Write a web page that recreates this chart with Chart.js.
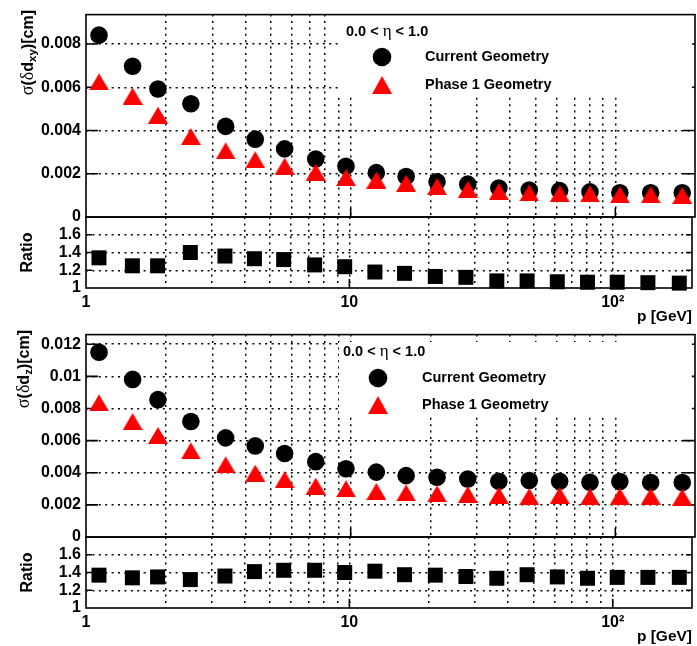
<!DOCTYPE html>
<html><head><meta charset="utf-8">
<script src="https://cdn.jsdelivr.net/npm/chart.js@4.4.1/dist/chart.umd.min.js"></script>
<style>
html,body{margin:0;padding:0;background:#fff;overflow:hidden;width:697px;height:646px;}
canvas{position:absolute;left:0;}
</style></head><body>
<canvas id="c1" width="697" height="240" style="top:0px;width:697px;height:240px"></canvas>
<canvas id="c2" width="697" height="130" style="top:200px;width:697px;height:130px"></canvas>
<canvas id="c3" width="697" height="240" style="top:320px;width:697px;height:240px"></canvas>
<canvas id="c4" width="697" height="130" style="top:520px;width:697px;height:130px"></canvas>
<script>
// ---------------- data ----------------
const momentum   = [1.12, 1.5, 1.87, 2.49, 3.37, 4.36, 5.63, 7.38, 9.6, 12.5, 16.2, 21.2, 27.7, 36.3, 47.3, 61.6, 80.2, 104, 136, 179];
const dxyCurrent = [0.00841, 0.00697, 0.00592, 0.00524, 0.00419, 0.0036, 0.00315, 0.00268, 0.00235, 0.00205, 0.00187, 0.00163, 0.00152, 0.00134, 0.00125, 0.00122, 0.00116, 0.00112, 0.00112, 0.00112];
const dxyPhase1  = [0.00625, 0.00559, 0.00471, 0.00372, 0.00306, 0.00265, 0.00235, 0.00207, 0.00182, 0.00171, 0.00156, 0.00141, 0.00128, 0.00118, 0.00111, 0.00108, 0.00107, 0.00103, 0.00103, 0.001];
const dxyRatio   = [1.34, 1.25, 1.25, 1.40, 1.36, 1.33, 1.32, 1.26, 1.24, 1.18, 1.165, 1.13, 1.12, 1.08, 1.08, 1.07, 1.065, 1.065, 1.06, 1.055];
const dzCurrent  = [0.0115, 0.00981, 0.00855, 0.00719, 0.00617, 0.00567, 0.0052, 0.00469, 0.00425, 0.00404, 0.00382, 0.00372, 0.00361, 0.00347, 0.00352, 0.00347, 0.00341, 0.00345, 0.00339, 0.00339];
const dzPhase1   = [0.00835, 0.00719, 0.00632, 0.00536, 0.00449, 0.00398, 0.00357, 0.00317, 0.003, 0.00284, 0.00274, 0.00268, 0.00264, 0.00259, 0.00252, 0.00259, 0.00251, 0.00254, 0.00254, 0.00249];
const dzRatio    = [1.37, 1.34, 1.35, 1.32, 1.36, 1.41, 1.425, 1.425, 1.40, 1.415, 1.375, 1.37, 1.355, 1.335, 1.375, 1.35, 1.335, 1.345, 1.345, 1.345];

const xGridValues = [1, 2, 3, 4, 5, 6, 7, 8, 9, 10, 20, 30, 40, 50, 60, 70, 80, 90, 100, 200];
const xTickLabels = {1: '1', 10: '10', 100: '10\u00B2'};
const dxyTicks   = [0, 0.002, 0.004, 0.006, 0.008];
const dzTicks    = [0, 0.002, 0.004, 0.006, 0.008, 0.01, 0.012];
const ratioTicks = [1, 1.2, 1.4, 1.6];
const seriesNames = ['Current Geometry', 'Phase 1 Geometry'];
const etaHeader = ['0.0 < ', '\u03B7', ' < 1.0'];
const xTitle = 'p [GeV]';
const ratioTitle = 'Ratio';
const dxyTitle = [['\u03C3', 'g'], ['(', 'b'], ['\u03B4', 'g'], ['d', 'b'], ['xy', 's'], [')[cm]', 'b']];
const dzTitle  = [['\u03C3', 'g'], ['(', 'b'], ['\u03B4', 'g'], ['d', 'b'], ['z', 's'], [')[cm]', 'b']];

// ---------------- style ----------------
const SANS = '"Liberation Sans", Arial, Helvetica, sans-serif';
const SERIF = '"Liberation Serif", "Times New Roman", serif';
const GRID_DASH = [2, 4.4];
const CLEAR = 'rgba(0,0,0,0)';

const triImg = document.createElement('canvas');
triImg.width = 20; triImg.height = 17;
(function () {
  const c = triImg.getContext('2d');
  c.fillStyle = '#ff0000';
  c.beginPath(); c.moveTo(0, 17); c.lineTo(20, 17); c.lineTo(10, 0); c.closePath(); c.fill();
})();

function drawRich(ctx, segs, x0, y0, sizes) {
  let x = x0;
  segs.forEach(([t, k]) => {
    let dy = 0;
    if (k === 'g') ctx.font = sizes.g + 'px ' + SERIF;
    else if (k === 's') { ctx.font = 'bold ' + sizes.s + 'px ' + SANS; dy = sizes.dy; }
    else ctx.font = 'bold ' + sizes.b + 'px ' + SANS;
    ctx.fillText(t, x, y0 + dy);
    x += ctx.measureText(t).width;
  });
  return x - x0;
}
function richWidth(ctx, segs, sizes) {
  let w = 0;
  segs.forEach(([t, k]) => {
    if (k === 'g') ctx.font = sizes.g + 'px ' + SERIF;
    else if (k === 's') ctx.font = 'bold ' + sizes.s + 'px ' + SANS;
    else ctx.font = 'bold ' + sizes.b + 'px ' + SANS;
    w += ctx.measureText(t).width;
  });
  return w;
}

const rootPlugin = {
  id: 'rootStyle',
  beforeDatasetsDraw(chart, args, o) {
    const {ctx, chartArea: a, scales} = chart;
    ctx.save();
    // inward ticks
    ctx.strokeStyle = '#000';
    ctx.lineWidth = 1.6;
    ctx.setLineDash([]);
    ctx.beginPath();
    scales.y.ticks.forEach(t => {
      if (t.value === scales.y.min) return;
      const y = scales.y.getPixelForValue(t.value);
      ctx.moveTo(a.left, y); ctx.lineTo(a.left + o.yTick, y);
      ctx.moveTo(a.right, y); ctx.lineTo(a.right - o.yTick, y);
    });
    scales.x.ticks.forEach(t => {
      if (!xTickLabels[t.value] || t.value === scales.x.min) return;
      const x = scales.x.getPixelForValue(t.value);
      ctx.moveTo(x, a.bottom); ctx.lineTo(x, a.bottom - o.xTick);
    });
    ctx.stroke();

    // legend box
    if (o.legend) {
      const L = o.legend;
      ctx.fillStyle = '#fff';
      ctx.fillRect(L.box[0], L.box[1], L.box[2] - L.box[0], L.box[3] - L.box[1]);
      ctx.fillStyle = '#000';
      ctx.textBaseline = 'middle';
      ctx.textAlign = 'left';
      drawRich(ctx, [[etaHeader[0], 'b'], [etaHeader[1], 'g'], [etaHeader[2], 'b']], L.hx, L.hy, {b: 14.5, g: 17, s: 10, dy: 0});
      chart.data.datasets.forEach((ds, i) => {
        const y = L.rows[i];
        if (ds.pointStyle === 'circle') {
          ctx.fillStyle = ds.backgroundColor;
          ctx.beginPath(); ctx.arc(L.mx, y, 9.3, 0, Math.PI * 2); ctx.fill();
        } else {
          ctx.drawImage(ds.pointStyle, L.mx - 10, y - 9, 20, 18);
        }
        ctx.fillStyle = '#000';
        ctx.font = 'bold 14.5px ' + SANS;
        ctx.fillText(ds.label, L.tx, y);
      });
    }

    // rotated y title with subscript
    if (o.yTitle) {
      const T = o.yTitle;
      const sizes = {b: 16, g: 18, s: 11.5, dy: 3};
      const w = richWidth(ctx, T.segs, sizes);
      ctx.fillStyle = '#000';
      ctx.textBaseline = 'alphabetic';
      ctx.textAlign = 'left';
      ctx.translate(T.bx, T.top + w);
      ctx.rotate(-Math.PI / 2);
      drawRich(ctx, T.segs, 0, 0, sizes);
      ctx.setTransform(1, 0, 0, 1, 0, 0);
    }

    // frame
    ctx.strokeStyle = '#000';
    ctx.lineWidth = 1.6;
    ctx.strokeRect(a.left, a.top, a.right - a.left, a.bottom - a.top);
    ctx.restore();
  }
};

function xScale(isRatio) {
  return {
    type: 'logarithmic', min: 1, max: 200,
    afterBuildTicks: s => { s.ticks = xGridValues.map(v => ({value: v})); },
    afterFit: s => { s.height = isRatio ? 42 : 0; },
    ticks: {
      display: isRatio, autoSkip: false, maxRotation: 0, minRotation: 0, padding: 5,
      color: '#000', font: {family: SANS, size: 16, weight: 'bold'},
      callback: v => xTickLabels[v] || ''
    },
    grid: {
      drawTicks: false, lineWidth: 1.5,
      color: c => (c.tick && (c.tick.value === 1 || c.tick.value === 200)) ? CLEAR : '#000'
    },
    border: {display: false, dash: GRID_DASH},
    title: isRatio ? {
      display: true, text: xTitle, align: 'end', color: '#000',
      font: {family: SANS, size: 15.5, weight: 'bold'}, padding: {top: 0, bottom: 4}
    } : {display: false}
  };
}

function yScale(min, max, tickVals, title) {
  return {
    min: min, max: max,
    afterBuildTicks: s => { s.ticks = tickVals.map(v => ({value: v})); },
    afterFit: s => { s.width = 86; },
    ticks: {
      padding: 5, color: '#000', font: {family: SANS, size: 16, weight: 'bold'},
      callback: v => String(v)
    },
    grid: {
      drawTicks: false, lineWidth: 1.5,
      color: c => (c.tick && c.tick.value === min) ? CLEAR : '#000'
    },
    border: {display: false, dash: GRID_DASH},
    title: title ? {
      display: true, text: title, color: '#000',
      font: {family: SANS, size: 16, weight: 'bold'}, padding: {top: 18, bottom: 0}
    } : {display: false}
  };
}

function pts(ys) { return momentum.map((p, i) => ({x: p, y: ys[i]})); }

function mainChart(id, cur, ph1, yMax, ticks, yTitleSegs, bx, legend) {
  return new Chart(document.getElementById(id), {
    type: 'scatter',
    data: {datasets: [
      {label: seriesNames[0], data: pts(cur), pointStyle: 'circle', pointRadius: 8.8, pointHoverRadius: 8.8,
       backgroundColor: '#000000', borderColor: '#000000', borderWidth: 0, order: 2, clip: false},
      {label: seriesNames[1], data: pts(ph1), pointStyle: triImg, pointRadius: 10, pointHoverRadius: 10,
       backgroundColor: '#ff0000', borderColor: '#ff0000', borderWidth: 0, order: 1, clip: false}
    ]},
    options: {
      responsive: false, animation: false, devicePixelRatio: 1,
      layout: {autoPadding: false, padding: {top: 10, bottom: 23, left: 0, right: 2}},
      events: [],
      plugins: {
        legend: {display: false}, tooltip: {enabled: false},
        rootStyle: {yTick: 12, xTick: 9, legend: legend, yTitle: {segs: yTitleSegs, bx: bx, top: 10}}
      },
      scales: {x: xScale(false), y: yScale(0, yMax, ticks, null)}
    },
    plugins: [rootPlugin]
  });
}

function ratioChart(id, ratio) {
  return new Chart(document.getElementById(id), {
    type: 'scatter',
    data: {datasets: [
      {label: ratioTitle, data: pts(ratio), pointStyle: 'rect', pointRadius: 10.6, pointHoverRadius: 10.6,
       backgroundColor: '#000000', borderColor: '#000000', borderWidth: 0, clip: false}
    ]},
    options: {
      responsive: false, animation: false, devicePixelRatio: 1,
      layout: {autoPadding: false, padding: {top: 17, bottom: 0, left: 0, right: 2}},
      events: [],
      plugins: {
        legend: {display: false}, tooltip: {enabled: false},
        rootStyle: {yTick: 6, xTick: 9}
      },
      scales: {x: xScale(true), y: yScale(1, 1.8, ratioTicks, ratioTitle)}
    },
    plugins: [rootPlugin]
  });
}

mainChart('c1', dxyCurrent, dxyPhase1, 0.00936, dxyTicks, dxyTitle, 33,
  {box: [338, 14, 692, 97], hx: 346, hy: 32, mx: 382, tx: 425, rows: [57, 85]});
ratioChart('c2', dxyRatio);
mainChart('c3', dzCurrent, dzPhase1, 0.0126, dzTicks, dzTitle, 29,
  {box: [339, 22, 692, 97], hx: 343, hy: 32, mx: 378, tx: 422, rows: [58, 85]});
ratioChart('c4', dzRatio);
</script>
</body></html>
